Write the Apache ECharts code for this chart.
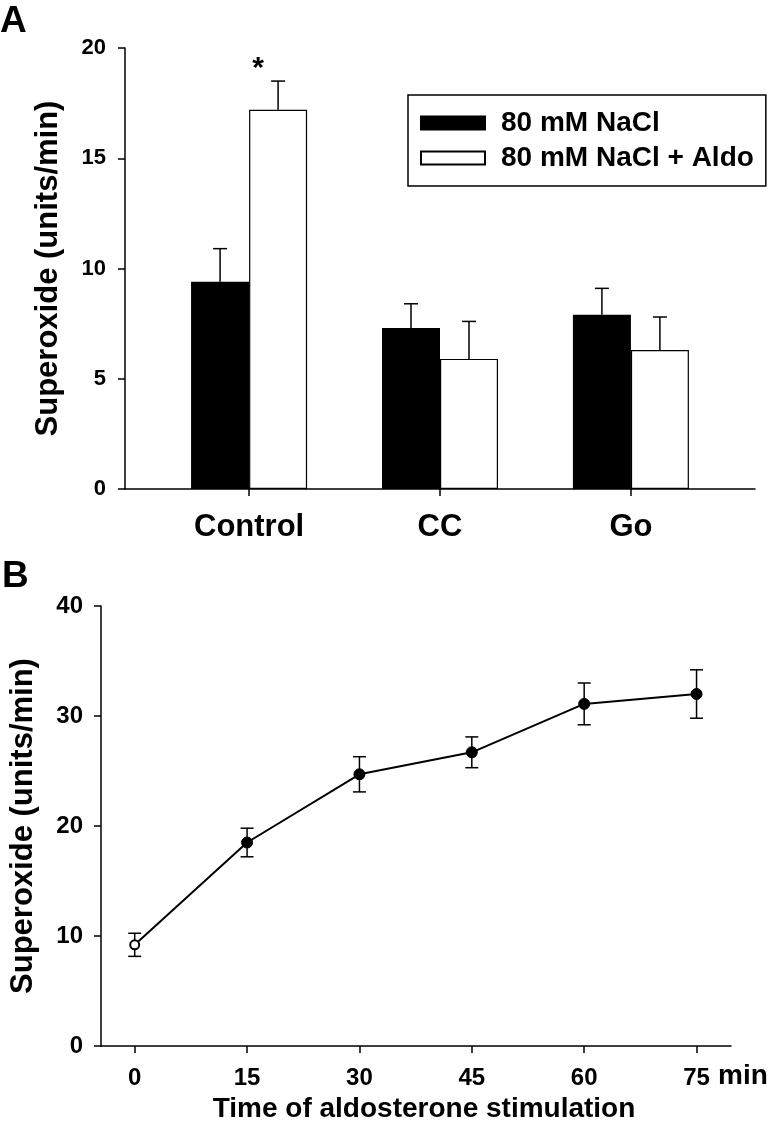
<!DOCTYPE html>
<html>
<head>
<meta charset="utf-8">
<script src="https://cdn.jsdelivr.net/npm/echarts@6/dist/echarts.min.js"></script>
<style>
  html, body { margin: 0; padding: 0; background: #fff; }
  #chart { width: 773px; height: 1133px; }
</style>
</head>
<body>
<div id="chart"></div>
<script>
// panel A: superoxide by treatment
const groups = ["Control", "CC", "Go"];
const naclMean = [9.4, 7.3, 7.9];
const naclErr = [1.5, 1.1, 1.2];
const aldoMean = [17.2, 5.9, 6.3];
const aldoErr = [1.3, 1.7, 1.5];
const aldoSig = ["*", "", ""];
const seriesNames = ["80 mM NaCl", "80 mM NaCl + Aldo"];

// panel B: time course of aldosterone stimulation
const times = [0, 15, 30, 45, 60, 75];
const superoxide = [9.2, 18.5, 24.7, 26.7, 31.1, 32.0];
const superoxideErr = [1.05, 1.3, 1.6, 1.4, 1.9, 2.2];

const FONT = '"Liberation Sans", Arial, sans-serif';
const BAR_W = 58;

var chart = echarts.init(document.getElementById("chart"));

function errorBarA(offset, sig) {
  return function(params, api) {
    var x = api.value(0), m = api.value(1), e = api.value(2);
    var base = api.coord([x, m]);
    var top = api.coord([x, m + e]);
    var cx = base[0] + offset;
    var st = { stroke: "#000", lineWidth: 1.5 };
    var children = [
      { type: "line", shape: { x1: cx, y1: base[1], x2: cx, y2: top[1] }, style: st },
      { type: "line", shape: { x1: cx - 7, y1: top[1], x2: cx + 7, y2: top[1] }, style: st }
    ];
    var s = sig ? sig[params.dataIndex] : "";
    if (s) {
      children.push({
        type: "text",
        x: cx - 20,
        y: top[1] - 12,
        style: { text: s, fontSize: 30, fontWeight: "bold", fontFamily: FONT, fill: "#000", align: "center", verticalAlign: "middle" }
      });
    }
    return { type: "group", children: children };
  };
}

function errorBarB(params, api) {
  var x = api.value(0), m = api.value(1), e = api.value(2);
  var hi = api.coord([x, m + e]);
  var lo = api.coord([x, m - e]);
  var st = { stroke: "#000", lineWidth: 1.5 };
  return {
    type: "group",
    children: [
      { type: "line", shape: { x1: hi[0], y1: hi[1], x2: lo[0], y2: lo[1] }, style: st },
      { type: "line", shape: { x1: hi[0] - 6.5, y1: hi[1], x2: hi[0] + 6.5, y2: hi[1] }, style: st },
      { type: "line", shape: { x1: lo[0] - 6.5, y1: lo[1], x2: lo[0] + 6.5, y2: lo[1] }, style: st }
    ]
  };
}

var axisLine = { show: true, onZero: false, lineStyle: { color: "#000", width: 1.5 } };
var axisTick = { show: true, length: 7, lineStyle: { color: "#000", width: 1.5 } };

chart.setOption({
  animation: false,
  backgroundColor: "#fff",
  textStyle: { fontFamily: FONT, color: "#000" },
  graphic: [
    { type: "text", left: 0, top: 3, style: { text: "A", fontSize: 37, fontWeight: "bold", fontFamily: FONT, fill: "#000" } },
    { type: "text", left: 2, top: 558, style: { text: "B", fontSize: 37, fontWeight: "bold", fontFamily: FONT, fill: "#000" } },
    { type: "text", left: 718, top: 1062, style: { text: "min", fontSize: 28, fontWeight: "bold", fontFamily: FONT, fill: "#000" } }
  ],
  legend: {
    data: seriesNames,
    orient: "vertical",
    left: 408,
    top: 95,
    icon: "rect",
    itemWidth: 64,
    itemHeight: 13,
    itemGap: 7,
    padding: [14, 12, 14, 12],
    borderColor: "#000",
    borderWidth: 1.5,
    selectedMode: false,
    textStyle: { fontSize: 28, fontWeight: "bold", color: "#000", fontFamily: FONT, padding: [0, 0, 0, 11] }
  },
  grid: [
    { left: 125, top: 48, right: 18, bottom: 644 },
    { left: 100, top: 606, right: 42, bottom: 87 }
  ],
  xAxis: [
    {
      gridIndex: 0,
      type: "value",
      min: -0.65,
      max: 2.65,
      axisLine: axisLine,
      axisTick: Object.assign({ customValues: [0, 1, 2] }, axisTick),
      axisLabel: {
        customValues: [0, 1, 2],
        formatter: function(v) { return groups[Math.round(v)]; },
        fontSize: 31,
        fontWeight: "bold",
        color: "#000",
        margin: 23
      },
      splitLine: { show: false }
    },
    {
      gridIndex: 1,
      type: "value",
      min: -4.5,
      max: 79.6,
      axisLine: axisLine,
      axisTick: Object.assign({ customValues: times }, axisTick),
      axisLabel: { customValues: times, fontSize: 24, fontWeight: "bold", color: "#000", margin: 20 },
      splitLine: { show: false },
      name: "Time of aldosterone stimulation",
      nameLocation: "middle",
      nameGap: 49,
      nameTextStyle: { fontSize: 28, fontWeight: "bold", color: "#000", padding: [0, 0, 0, 16] }
    }
  ],
  yAxis: [
    {
      gridIndex: 0,
      type: "value",
      min: 0,
      max: 20,
      interval: 5,
      axisLine: axisLine,
      axisTick: axisTick,
      axisLabel: { fontSize: 22, fontWeight: "bold", color: "#000", margin: 19 },
      splitLine: { show: false },
      name: "Superoxide (units/min)",
      nameLocation: "middle",
      nameGap: 61,
      nameTextStyle: { fontSize: 31, fontWeight: "bold", color: "#000" }
    },
    {
      gridIndex: 1,
      type: "value",
      min: 0,
      max: 40,
      interval: 10,
      axisLine: axisLine,
      axisTick: axisTick,
      axisLabel: { fontSize: 24, fontWeight: "bold", color: "#000", margin: 18 },
      splitLine: { show: false },
      name: "Superoxide (units/min)",
      nameLocation: "middle",
      nameGap: 62,
      nameTextStyle: { fontSize: 31, fontWeight: "bold", color: "#000" }
    }
  ],
  series: [
    {
      name: seriesNames[0],
      type: "bar",
      xAxisIndex: 0,
      yAxisIndex: 0,
      barWidth: BAR_W,
      barGap: "0%",
      itemStyle: { color: "#000", borderColor: "#000", borderWidth: 1.2 },
      data: naclMean.map(function(v, i) { return [i, v]; })
    },
    {
      name: seriesNames[1],
      type: "bar",
      xAxisIndex: 0,
      yAxisIndex: 0,
      barWidth: BAR_W,
      barGap: "0%",
      itemStyle: { color: "#fff", borderColor: "#000", borderWidth: 1.2 },
      data: aldoMean.map(function(v, i) { return [i, v]; })
    },
    {
      type: "custom",
      xAxisIndex: 0,
      yAxisIndex: 0,
      z: 5,
      renderItem: errorBarA(-BAR_W / 2, null),
      encode: { x: 0, y: 1 },
      data: naclMean.map(function(v, i) { return [i, v, naclErr[i]]; })
    },
    {
      type: "custom",
      xAxisIndex: 0,
      yAxisIndex: 0,
      z: 5,
      renderItem: errorBarA(BAR_W / 2, aldoSig),
      encode: { x: 0, y: 1 },
      data: aldoMean.map(function(v, i) { return [i, v, aldoErr[i]]; })
    },
    {
      type: "custom",
      xAxisIndex: 1,
      yAxisIndex: 1,
      z: 2,
      renderItem: errorBarB,
      encode: { x: 0, y: 1 },
      data: times.map(function(t, i) { return [t, superoxide[i], superoxideErr[i]]; })
    },
    {
      type: "line",
      xAxisIndex: 1,
      yAxisIndex: 1,
      z: 4,
      symbol: "circle",
      symbolSize: 11,
      lineStyle: { color: "#000", width: 2 },
      itemStyle: { color: "#000", borderColor: "#000" },
      data: times.map(function(t, i) {
        if (i === 0) {
          return { value: [t, superoxide[i]], symbol: "emptyCircle", symbolSize: 9, itemStyle: { borderWidth: 1.3 } };
        }
        return [t, superoxide[i]];
      })
    }
  ]
});
</script>
</body>
</html>
